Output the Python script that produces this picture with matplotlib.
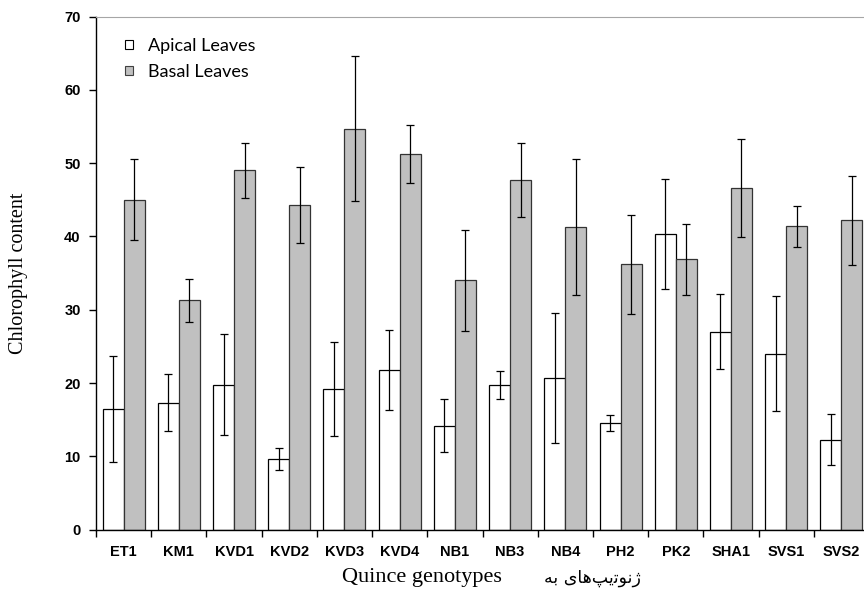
import matplotlib
matplotlib.use("Agg")
import matplotlib.pyplot as plt
from matplotlib.patches import Patch
import numpy as np

# genotypes and chlorophyll readings
genotypes = ['ET1', 'KM1', 'KVD1', 'KVD2', 'KVD3', 'KVD4', 'NB1',
             'NB3', 'NB4', 'PH2', 'PK2', 'SHA1', 'SVS1', 'SVS2']
apical = [16.5, 17.3, 19.8, 9.7, 19.2, 21.8, 14.2,
          19.7, 20.7, 14.5, 40.4, 27.0, 24.0, 12.3]
apical_err = [7.2, 3.9, 6.85, 1.5, 6.35, 5.45, 3.65,
              1.9, 8.9, 1.1, 7.5, 5.1, 7.85, 3.5]
basal = [45.0, 31.3, 49.0, 44.3, 54.7, 51.3, 34.0,
         47.7, 41.3, 36.2, 36.9, 46.6, 41.4, 42.2]
basal_err = [5.55, 2.9, 3.7, 5.15, 9.9, 3.95, 6.85,
             5.1, 9.25, 6.75, 4.85, 6.65, 2.8, 6.05]

# Persian part of the x label ("ژنوتیپ‌های به"), written in shaped
# presentation forms and visual order since matplotlib does no bidi/shaping
fa_label = "\uFEEA\uFE91 \uFBFC\uFE8E\uFEEB\uFB57\uFBFE\uFE97\uFEEE\uFEE7\uFB8A"

x = np.arange(len(genotypes))
w = 0.38

fig = plt.figure(figsize=(8.64, 5.92), dpi=100)
ax = fig.add_axes([0.1111, 0.1052, 0.8947, 0.8669])

ax.bar(x - w / 2, apical, w, color='white', edgecolor='black', linewidth=0.9, zorder=2)
ax.bar(x + w / 2, basal, w, color='#c0c0c0', edgecolor='#333333', linewidth=0.9, zorder=2)
ax.errorbar(x - w / 2, apical, yerr=apical_err, fmt='none', ecolor='black',
            elinewidth=0.9, capsize=2.6, capthick=0.9, zorder=3)
ax.errorbar(x + w / 2, basal, yerr=basal_err, fmt='none', ecolor='black',
            elinewidth=0.9, capsize=2.6, capthick=0.9, zorder=3)

ax.set_xlim(-0.5, len(genotypes) - 0.5)
ax.set_ylim(0, 70)
ax.set_yticks(range(0, 71, 10))
ax.set_xticks(x)
ax.set_xticklabels(genotypes)
ax.set_xticks(np.arange(-0.5, len(genotypes)), minor=True)
ax.tick_params(axis='x', which='major', length=0, pad=11)
ax.tick_params(axis='x', which='minor', length=5, width=1, direction='out')
ax.tick_params(axis='y', length=5, width=1, direction='out', pad=6)
for lab in ax.get_xticklabels() + ax.get_yticklabels():
    lab.set_fontfamily('Liberation Sans')
    lab.set_fontweight('bold')
    lab.set_fontsize(10.5)

ax.spines['right'].set_visible(False)
ax.spines['top'].set_color('#a6a6a6')
ax.spines['left'].set_linewidth(1)
ax.spines['bottom'].set_linewidth(1)

ax.set_ylabel('Chlorophyll content', family='Liberation Serif', fontsize=14.5)
ax.yaxis.set_label_coords(-0.088, 0.5)

# x label: English part as the axis label, Persian part next to it
ax.set_xlabel('Quince genotypes', family='Liberation Serif', fontsize=16)
ax.xaxis.set_label_coords((422 - 96) / 773, -0.075)
ax.text((592 - 96) / 773, -0.077, fa_label, transform=ax.transAxes,
        ha='center', va='top', family='DejaVu Sans', fontsize=12.5)

handles = [Patch(facecolor='white', edgecolor='black', linewidth=0.8),
           Patch(facecolor='#c0c0c0', edgecolor='#404040', linewidth=0.8)]
ax.legend(handles, ['Apical Leaves', 'Basal Leaves'], loc='upper left',
          bbox_to_anchor=(0.026, 0.976), frameon=False, borderpad=0,
          handlelength=0.45, handleheight=0.45, handletextpad=0.8,
          labelspacing=0.55, prop={'family': 'Lato', 'size': 13})

fig.savefig('out.png', dpi=100)
